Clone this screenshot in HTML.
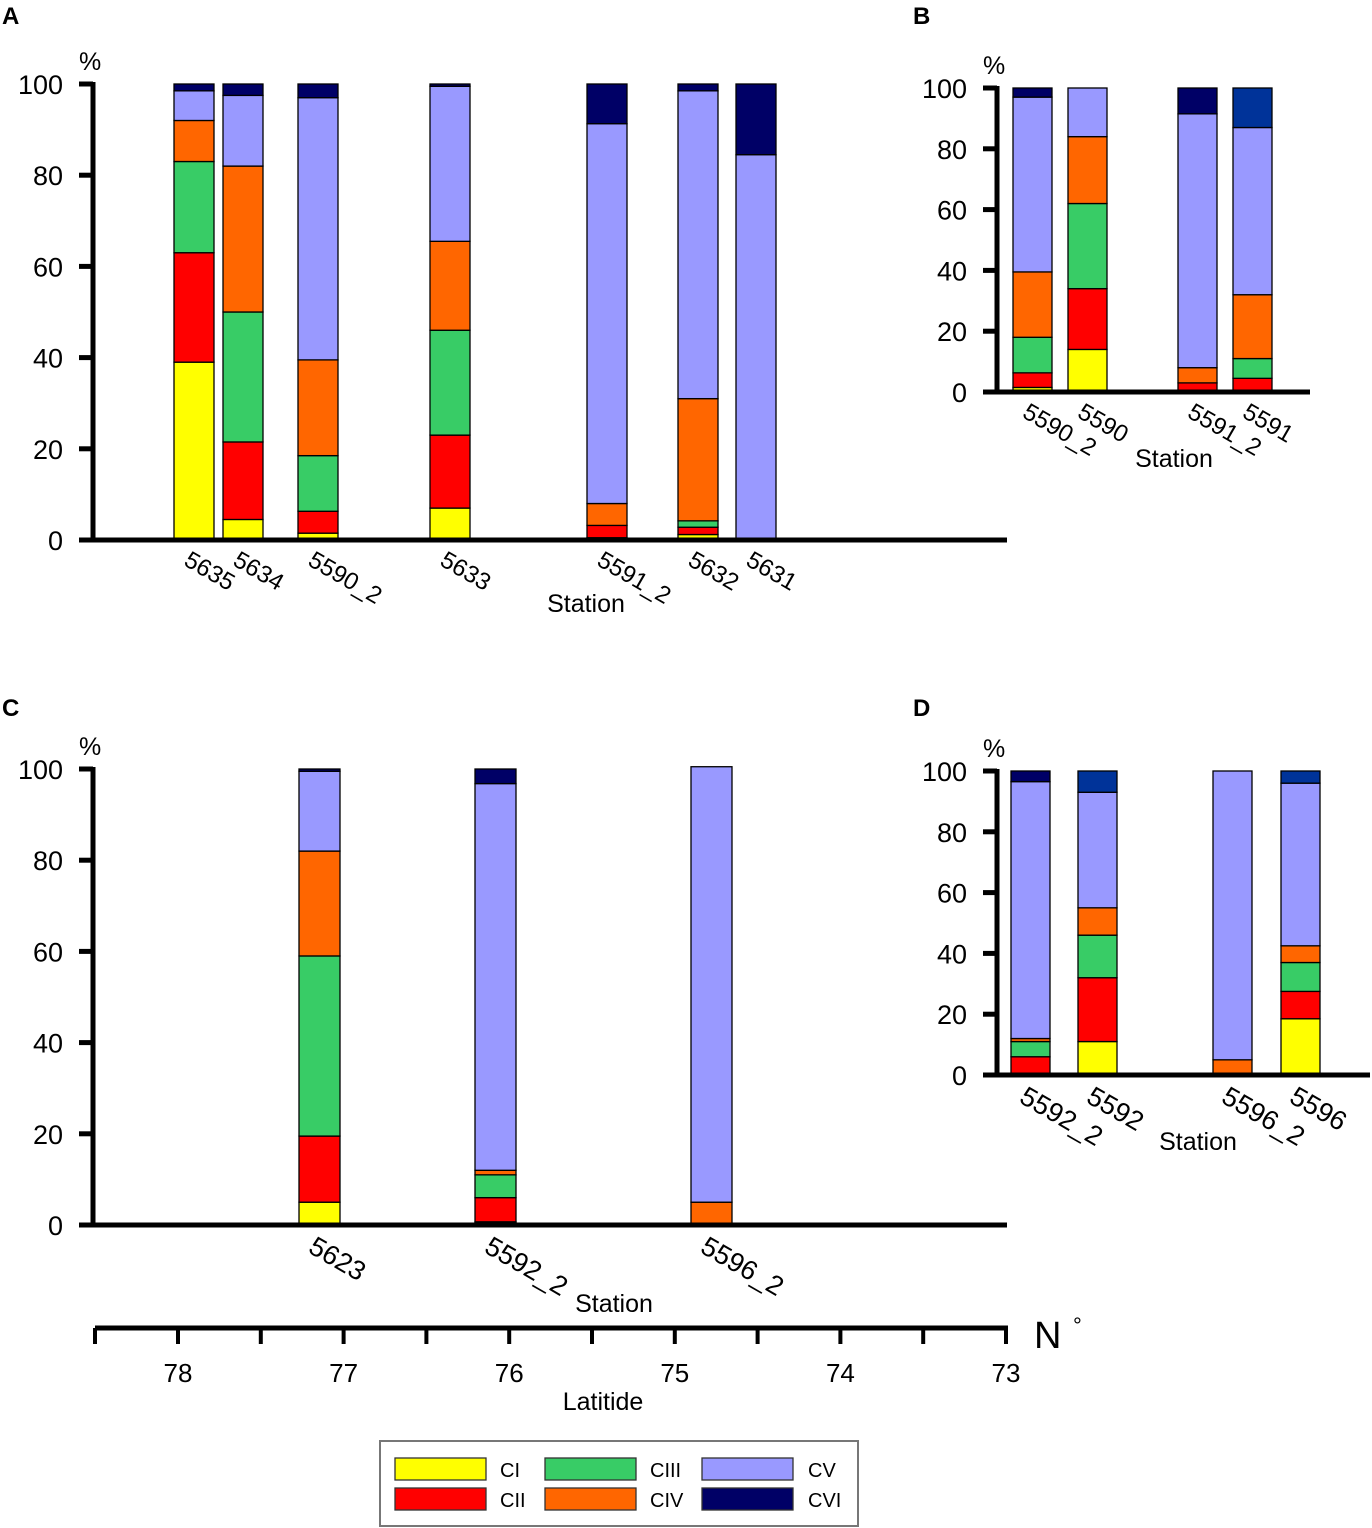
<!DOCTYPE html>
<html><head><meta charset="utf-8"><style>
html,body{margin:0;padding:0;background:#fff;}
svg{display:block;font-family:"Liberation Sans",Arial,sans-serif;}
</style></head><body>
<svg id="fig" width="1372" height="1528" viewBox="0 0 1372 1528" xmlns="http://www.w3.org/2000/svg">
<g id="root"></g>
</svg>
<script>
const stageNames = ["CI","CII","CIII","CIV","CV","CVI"];
const stageColors = ["#ffff00","#ff0000","#38cc66","#ff6600","#9999ff","#000066"];
const yTicks = [0,20,40,60,80,100];

// Panel A
const stationsA = ["5635","5634","5590_2","5633","5591_2","5632","5631"];
const valuesA = [
  [39,24,20,9,6.5,1.5],
  [4.5,17,28.5,32,15.5,2.5],
  [1.5,4.8,12.2,21,57.5,3],
  [7,16,23,19.5,34,0.5],
  [0.5,2.7,0,4.8,83.3,8.7],
  [1.2,1.6,1.4,26.8,67.5,1.5],
  [0,0,0,0,84.5,15.5]
];
const cviA = ["#000066","#000066","#000066","#000066","#000066","#000066","#000066"];
// Panel B
const stationsB = ["5590_2","5590","5591_2","5591"];
const valuesB = [
  [1.5,4.8,11.7,21.5,57.5,3],
  [14,20,28,22,16,0],
  [0,3,0,5,83.5,8.5],
  [0.5,4,6.5,21,55,13]
];
const cviB = ["#000066","#000066","#000066","#003399"];
// Panel C
const stationsC = ["5623","5592_2","5596_2"];
const valuesC = [
  [5,14.5,39.5,23,17.5,0.5],
  [0.7,5.3,5,1,84.8,3.2],
  [0,0,0,5,95.5,0]
];
const cviC = ["#000066","#000066","#000066"];
// Panel D
const stationsD = ["5592_2","5592","5596_2","5596"];
const valuesD = [
  [0,6,5,1,84.5,3.5],
  [11,21,14,9,38,7],
  [0,0,0,5,95,0],
  [18.5,9,9.5,5.5,53.5,4]
];
const cviD = ["#000066","#003399","#000066","#003399"];
// Latitude axis
const latLabels = ["78","77","76","75","74","73"];

const NS="http://www.w3.org/2000/svg";
const root=document.getElementById('root');
function mk(tag,attrs,parent){const e=document.createElementNS(NS,tag);for(const k in attrs)e.setAttribute(k,attrs[k]);(parent||root).appendChild(e);return e;}

function panel(cfg){
  const g=mk('g',{});
  
  
  const y=v=>cfg.y0-(cfg.y0-cfg.y100)*v/100;
  const L=mk('text',{x:cfg.letterX,y:cfg.letterY,'font-size':24,'font-weight':'bold'},g);L.textContent=cfg.id;
  
  
  const P=mk('text',{x:cfg.axX-14,y:cfg.y100-14,'font-size':25},g);P.textContent='%';
  
  
  cfg.stations.forEach((s,i)=>{
    const bx=cfg.barX[i];let acc=0;
    const bg=mk('g',{},g);
    
    
    cfg.values[i].forEach((v,j)=>{
      if(v<=0){acc+=v;return;}
      const top=y(acc+v),bot=y(acc);
      const r=mk('rect',{x:bx,y:top,width:cfg.bw,height:bot-top,fill:j==5?cfg.cvi[i]:stageColors[j],stroke:'#000','stroke-width':1.3},bg);
      
      
      acc+=v;
    });
    const t=mk('text',{'font-size':cfg.lfs,transform:`translate(${bx+cfg.bw/2-3},${cfg.y0+10}) rotate(30)`,'dominant-baseline':'hanging'},g);
    t.textContent=s;
    
    
  });
  const ya=mk('line',{x1:cfg.axX,y1:cfg.y100-2,x2:cfg.axX,y2:cfg.y0+2,stroke:'#000','stroke-width':5},g);
  
  
  const xa=mk('line',{x1:cfg.axX-14,y1:cfg.y0,x2:cfg.xEnd,y2:cfg.y0,stroke:'#000','stroke-width':5},g);
  
  
  yTicks.forEach(v=>{
    const tk=mk('line',{x1:cfg.axX-14,y1:y(v),x2:cfg.axX,y2:y(v),stroke:'#000','stroke-width':5},g);
    
    
    const tl=mk('text',{x:cfg.axX-30,y:y(v)+10,'font-size':27,'text-anchor':'end'},g);tl.textContent=v;
    
    
  });
  const st=mk('text',{x:cfg.stX,y:cfg.stY,'font-size':25,'text-anchor':'middle'},g);st.textContent='Station';
  
  
}

panel({id:'A',letterX:2,letterY:24,axX:93,y0:540,y100:84,xEnd:1007,bw:40,lfs:24,
  barX:[174,223,298,430,587,678,736],stations:stationsA,values:valuesA,cvi:cviA,stX:586,stY:612});
panel({id:'B',letterX:913,letterY:24,axX:997,y0:392,y100:88,xEnd:1310,bw:39,lfs:24,
  barX:[1013,1068,1178,1233],stations:stationsB,values:valuesB,cvi:cviB,stX:1174,stY:467});
panel({id:'C',letterX:2,letterY:716,axX:93,y0:1225,y100:769,xEnd:1007,bw:41,lfs:27,
  barX:[299,475,691],stations:stationsC,values:valuesC,cvi:cviC,stX:614,stY:1312});
panel({id:'D',letterX:913,letterY:716,axX:997,y0:1075,y100:771,xEnd:1370,bw:39,lfs:27,
  barX:[1011,1078,1213,1281],stations:stationsD,values:valuesD,cvi:cviD,stX:1198,stY:1150});

(function(){
  const g=mk('g',{});
  
  
  const x0=178,step=165.6,ly=1328;
  const lx=i=>x0+step*i;
  mk('line',{x1:95,y1:ly,x2:1008,y2:ly,stroke:'#000','stroke-width':5},g);
  for(let k=-1;k<=10;k++){
    const x=k==-1?95:x0+step*k/2;
    mk('line',{x1:x,y1:ly,x2:x,y2:ly+16,stroke:'#000','stroke-width':4},g);
  }
  latLabels.forEach((l,i)=>{
    const t=mk('text',{x:lx(i),y:1382,'font-size':26,'text-anchor':'middle'},g);t.textContent=l;
    
    
  });
  const n=mk('text',{x:1034,y:1348,'font-size':38},g);n.textContent='N';
  
  
  const d=mk('text',{x:1073,y:1333,'font-size':22},g);d.textContent='°';
  
  
  const tt=mk('text',{x:603,y:1410,'font-size':25,'text-anchor':'middle'},g);tt.textContent='Latitide';
  
  
})();

(function(){
  const g=mk('g',{});
  
  
  mk('rect',{x:380,y:1441,width:478,height:85,fill:'#fff',stroke:'#777','stroke-width':2},g);
  const cols=[[395,500],[545,650],[702,808]];
  stageNames.forEach((s,i)=>{
    const c=Math.floor(i/2),r=i%2;
    const e=mk('g',{},g);
    
    
    mk('rect',{x:cols[c][0],y:1458+r*30,width:91,height:22,fill:stageColors[i],stroke:'#333','stroke-width':1.3},e);
    const t=mk('text',{x:cols[c][1],y:1477+r*30,'font-size':20},e);t.textContent=s;
  });
})();
</script>
</body></html>
